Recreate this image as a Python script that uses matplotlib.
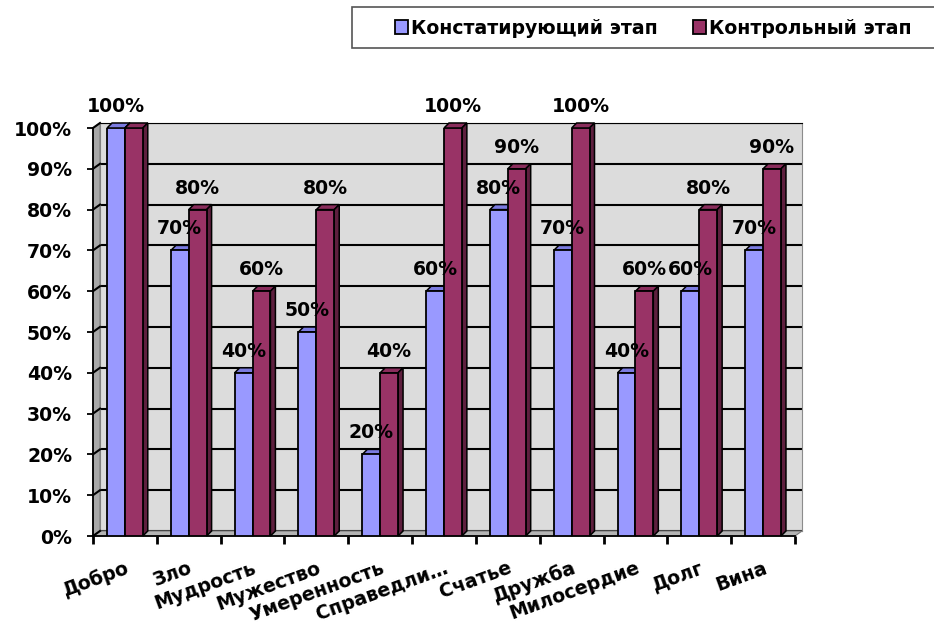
import numpy as np
import matplotlib.pyplot as plt
from matplotlib.patches import Polygon, Rectangle, Patch
from matplotlib.transforms import IdentityTransform

categories = ['Добро', 'Зло', 'Мудрость', 'Мужество', 'Умеренность', 'Справедли…',
              'Счатье', 'Дружба', 'Милосердие', 'Долг', 'Вина']
konst = [100, 70, 40, 50, 20, 60, 80, 70, 40, 60, 70]
kontr = [100, 80, 60, 80, 40, 100, 90, 100, 60, 80, 90]
names = ['Констатирующий этап', 'Контрольный этап']
yticks = list(range(0, 101, 10))

blue, blue_top, blue_side = '#9999FF', '#7B7BE0', '#5F5FB0'
red, red_top, red_side = '#993366', '#8A2D5C', '#5E1F3E'

plt.rcParams['font.family'] = 'DejaVu Sans'
plt.rcParams['font.weight'] = 'bold'
plt.rcParams['font.size'] = 13.6

W, H = 934, 631
fig = plt.figure(figsize=(W / 100, H / 100), dpi=100)

# plot front plane in pixels (from top-left)
X0, X1, Y0, Y1 = 93, 795, 536, 128
DX, DY = 7, 5   # depth of the walls
BD = 5          # depth of the bars


def fig_xy(px, py):
    return px / W, 1 - py / H


# walls
back = fig.add_axes([(X0 + DX) / W, 1 - (Y0 - DY) / H, (X1 - X0) / W, (Y0 - Y1) / H], zorder=0)
back.set_xlim(-0.5, 10.5)
back.set_ylim(0, 100)
back.set_facecolor('#DCDCDC')
back.set_yticks(yticks)
back.set_xticks([])
back.tick_params(left=False, labelleft=False)
back.grid(axis='y', color='black', lw=1.5)
for s in back.spines.values():
    s.set_color('#8C8C8C')
back.spines['top'].set_color('black')

side = [fig_xy(X0, Y0), fig_xy(X0, Y1), fig_xy(X0 + DX, Y1 - DY), fig_xy(X0 + DX, Y0 - DY)]
fig.add_artist(Polygon(side, closed=True, facecolor='#A8A8A8', edgecolor='#7A7A7A',
                       lw=0.8, transform=fig.transFigure, zorder=0.5))
floor = [fig_xy(X0, Y0), fig_xy(X1, Y0), fig_xy(X1 + DX, Y0 - DY), fig_xy(X0 + DX, Y0 - DY)]
fig.add_artist(Polygon(floor, closed=True, facecolor='#B4B4B4', edgecolor='#7A7A7A',
                       lw=0.8, transform=fig.transFigure, zorder=0.5))

ax = fig.add_axes([X0 / W, 1 - Y0 / H, (X1 - X0) / W, (Y0 - Y1) / H], zorder=1)
ax.patch.set_alpha(0)
ax.set_xlim(-0.5, 10.5)
ax.set_ylim(0, 100)
for v in yticks:
    py = Y0 - (Y0 - Y1) * v / 100
    fig.add_artist(plt.Line2D([X0 / W, (X0 + DX) / W], [1 - py / H, 1 - (py - DY) / H],
                              color='black', lw=1.5, transform=fig.transFigure, zorder=0.6))

x = np.arange(len(categories))
w = 0.28
ax.bar(x - w / 2, konst, w, color=blue, edgecolor='black', lw=1.3, zorder=3)
ax.bar(x + w / 2, kontr, w, color=red, edgecolor='black', lw=1.3, zorder=3)

# 3d faces of bars
fig.canvas.draw()
for vals, off, ctop, cside in [(konst, -w, blue_top, blue_side), (kontr, 0, red_top, red_side)]:
    for xi, v in zip(x, vals):
        (xl, y0), (xr, yt) = ax.transData.transform([(xi + off, 0), (xi + off + w, v)])
        top = [(xl, yt), (xr, yt), (xr + BD, yt + BD), (xl + BD, yt + BD)]
        sd = [(xr, yt), (xr, y0), (xr + BD, y0 + BD), (xr + BD, yt + BD)]
        ax.add_patch(Polygon(top, closed=True, facecolor=ctop, edgecolor='black', lw=1.1,
                             transform=IdentityTransform(), clip_on=False, zorder=2))
        ax.add_patch(Polygon(sd, closed=True, facecolor=cside, edgecolor='black', lw=1.1,
                             transform=IdentityTransform(), clip_on=False, zorder=2))

# value labels
for xi, a, b in zip(x, konst, kontr):
    ax.annotate(f'{a}%', (xi - w / 2, a), xytext=(0, 16), textcoords='offset pixels',
                ha='center', va='baseline', zorder=5, annotation_clip=False)
    if b != a:
        ax.annotate(f'{b}%', (xi + w / 2, b), xytext=(0, 16), textcoords='offset pixels',
                    ha='center', va='baseline', zorder=5, annotation_clip=False)

# axes
for s in ['top', 'right']:
    ax.spines[s].set_visible(False)
ax.spines['left'].set_linewidth(1.3)
ax.spines['bottom'].set_linewidth(1.3)
ax.set_yticks(yticks)
ax.set_yticklabels([f'{v}%' for v in yticks])
ax.tick_params(axis='y', length=4, width=1.3, pad=11)
ax.set_xticks(np.arange(-0.5, len(categories)))
ax.set_xticklabels([])
ax.tick_params(axis='x', which='major', length=6, width=2)
ax.set_xticks(x, minor=True)
ax.set_xticklabels(categories, minor=True, rotation=20, ha='right', va='top',
                   rotation_mode='anchor')
ax.tick_params(axis='x', which='minor', length=0, pad=16)

# legend
lx, ly = fig_xy(352, 48)
fig.add_artist(Rectangle((lx, ly), 600 / W, 41 / H, facecolor='white',
                         edgecolor='#555555', lw=1.2, transform=fig.transFigure, zorder=0.8))
handles = [Patch(facecolor=blue, edgecolor='black', lw=1.3),
           Patch(facecolor=red, edgecolor='black', lw=1.3)]
fig.legend(handles, names, loc='center left', bbox_to_anchor=fig_xy(387, 28), ncol=2,
           frameon=False, handlelength=0.7, handleheight=0.7, handletextpad=0.15,
           columnspacing=1.9, borderaxespad=0)

fig.savefig('out.png', dpi=100)
